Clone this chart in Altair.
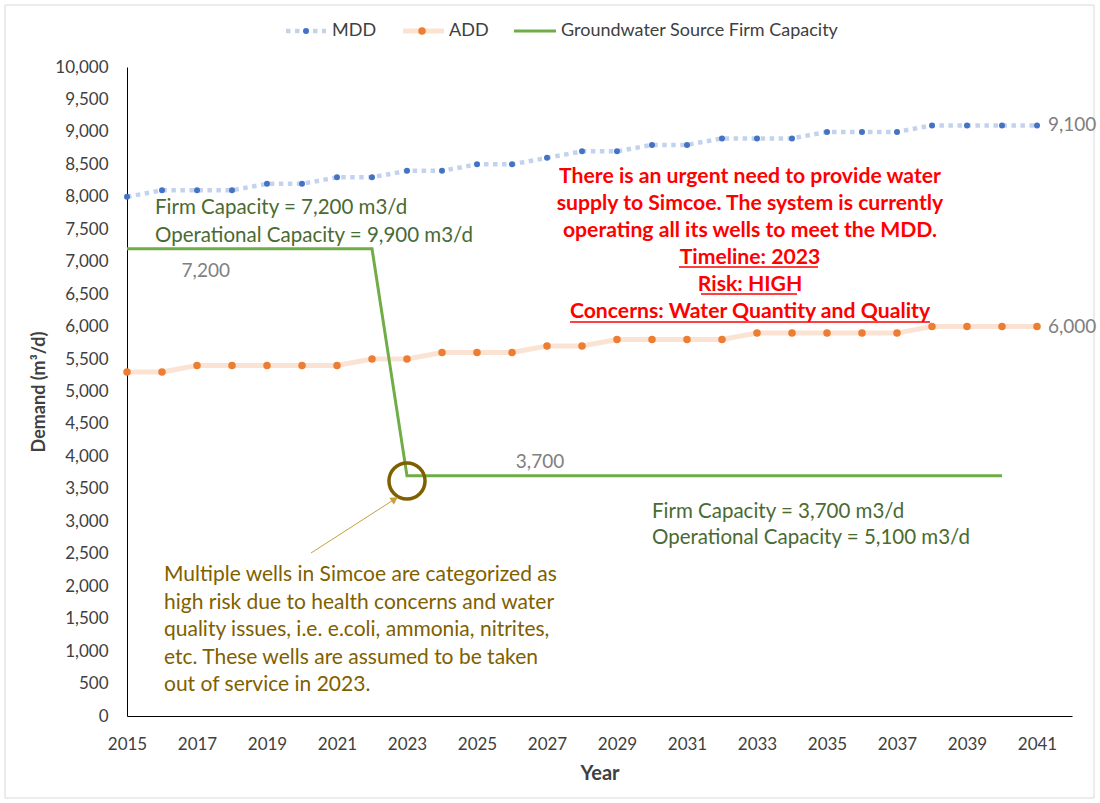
import altair as alt
import pandas as pd

# ---- demand projections (m3/d) ----
years = list(range(2015, 2042))
mdd = [8000, 8100, 8100, 8100, 8200, 8200, 8300, 8300, 8400, 8400,
       8500, 8500, 8600, 8700, 8700, 8800, 8800, 8900, 8900, 8900,
       9000, 9000, 9000, 9100, 9100, 9100, 9100]
add = [5300, 5300, 5400, 5400, 5400, 5400, 5400, 5500, 5500, 5600,
       5600, 5600, 5700, 5700, 5800, 5800, 5800, 5800, 5900, 5900,
       5900, 5900, 5900, 6000, 6000, 6000, 6000]

# ---- groundwater firm capacity step ----
firm_before = 7200
firm_after = 3700
cap_years = [2015, 2022, 2023, 2040]
cap_values = [firm_before, firm_before, firm_after, firm_after]

FONT = "Lato"
BLUE = "#4472C4"
BLUE_LIGHT = "#C3D3EE"
ORANGE = "#ED7D31"
ORANGE_LIGHT = "#FBE3D4"
GREEN = "#70AD47"
GREEN_TEXT = "#4A6A33"
BROWN = "#7F6000"
ARROW = "#C9A03A"
RED = "#FF0000"
GREY = "#808080"
AXIS_TEXT = "#404040"

demand = pd.DataFrame({"year": years, "MDD": mdd, "ADD": add})
cap = pd.DataFrame({"year": cap_years, "value": cap_values})

xs = alt.Scale(domain=[2015, 2042], nice=False, zero=False)
ys = alt.Scale(domain=[0, 10000], nice=False)

x_axis = alt.Axis(values=list(range(2015, 2042, 2)), labelExpr="format(datum.value, 'd')",
                  title="Year", grid=False, ticks=False, labelFontSize=17,
                  labelColor=AXIS_TEXT, labelPadding=20, titleFontSize=20,
                  titleFontWeight="bold", titleColor=AXIS_TEXT, titlePadding=11,
                  domainColor="#000000", labelFlush=False)
y_axis = alt.Axis(values=list(range(0, 10001, 500)), labelExpr="format(datum.value, ',')",
                  title="Demand (m³/d)", grid=False, ticks=False, labelFontSize=17,
                  labelColor=AXIS_TEXT, labelPadding=19, titleFontSize=18,
                  titleFontWeight="bold", titleColor=AXIS_TEXT, titlePadding=6,
                  domainColor="#000000")


def X(field="year:Q"):
    return alt.X(field, scale=xs, axis=x_axis)


def Y(field):
    return alt.Y(field, scale=ys, axis=y_axis)


mdd_line = alt.Chart(demand).mark_line(
    color=BLUE_LIGHT, strokeWidth=4.5, strokeDash=[4.5, 4.5], strokeCap="butt"
).encode(x=X(), y=Y("MDD:Q"))
add_line = alt.Chart(demand).mark_line(color=ORANGE_LIGHT, strokeWidth=5).encode(
    x=X(), y=Y("ADD:Q"))
cap_line = alt.Chart(cap).mark_line(color=GREEN, strokeWidth=3).encode(
    x=X(), y=Y("value:Q"))
mdd_pts = alt.Chart(demand).mark_circle(color=BLUE, size=36, opacity=1).encode(
    x=X(), y=Y("MDD:Q"))
add_pts = alt.Chart(demand).mark_circle(color=ORANGE, size=56, opacity=1).encode(
    x=X(), y=Y("ADD:Q"))

# end-of-series value labels
end_labels = alt.Chart(demand).transform_filter(alt.datum.year == 2041).transform_fold(
    ["MDD", "ADD"], as_=["series", "v"]
).mark_text(align="left", baseline="middle", dx=11, fontSize=19, color=GREY, font=FONT).encode(
    x=X(), y=Y("v:Q"), text=alt.Text("v:Q", format=","))

# capacity value labels
cap_lbl_before = alt.Chart(pd.DataFrame({"year": [2017.25], "value": [firm_before]})).mark_text(
    align="center", baseline="middle", dy=22, fontSize=19, color=GREY, font=FONT
).encode(x=X(), y=Y("value:Q"), text=alt.Text("value:Q", format=","))
cap_lbl_after = alt.Chart(pd.DataFrame({"year": [2026.8], "value": [firm_after]})).mark_text(
    align="center", baseline="middle", dy=-14, fontSize=19, color=GREY, font=FONT
).encode(x=X(), y=Y("value:Q"), text=alt.Text("value:Q", format=","))

# ---- annotation text blocks ----
PX_PER_UNIT = 649 / 10000.0


def val_at(py):
    return (716 - py) / PX_PER_UNIT


def year_at(px):
    return 2015 + (px - 127) / 35.0


def block(lines, px, py0, step):
    return pd.DataFrame({
        "text": lines,
        "year": [year_at(px)] * len(lines),
        "value": [val_at(py0 + i * step) for i in range(len(lines))],
    })


red_lines = ["There is an urgent need to provide water",
             "supply to Simcoe. The system is currently",
             "operating all its wells to meet the MDD.",
             "Timeline: 2023",
             "Risk: HIGH",
             "Concerns: Water Quantity and Quality"]
green_left = ["Firm Capacity = 7,200 m3/d", "Operational Capacity = 9,900 m3/d"]
green_right = ["Firm Capacity = 3,700 m3/d", "Operational Capacity = 5,100 m3/d"]
brown_lines = ["Multiple wells in Simcoe are categorized as",
               "high risk due to health concerns and water",
               "quality issues, i.e. e.coli, ammonia, nitrites,",
               "etc. These wells are assumed to be taken",
               "out of service in 2023."]

red_txt = alt.Chart(block(red_lines, 750, 177, 27)).mark_text(
    align="center", baseline="middle", fontSize=21.2, fontWeight="bold", color=RED, font=FONT
).encode(x=X(), y=Y("value:Q"), text="text:N")

underline = pd.DataFrame({
    "x1": [year_at(679), year_at(701), year_at(570)],
    "x2": [year_at(818), year_at(797), year_at(930)],
    "value": [val_at(267), val_at(294), val_at(322)],
})
red_ul = alt.Chart(underline).mark_rule(color=RED, strokeWidth=1.6).encode(
    x=X("x1:Q"), x2="x2:Q", y=Y("value:Q"))

gl_txt = alt.Chart(block(green_left, 155, 208, 28)).mark_text(
    align="left", baseline="middle", fontSize=20.5, color=GREEN_TEXT, font=FONT
).encode(x=X(), y=Y("value:Q"), text="text:N")
gr_txt = alt.Chart(block(green_right, 652, 512, 26)).mark_text(
    align="left", baseline="middle", fontSize=20.5, color=GREEN_TEXT, font=FONT
).encode(x=X(), y=Y("value:Q"), text="text:N")
br_txt = alt.Chart(block(brown_lines, 164, 575, 27.5)).mark_text(
    align="left", baseline="middle", fontSize=21, color=BROWN, font=FONT
).encode(x=X(), y=Y("value:Q"), text="text:N")

# circle around the 2023 drop and the arrow pointing at it
ring = alt.Chart(pd.DataFrame({"year": [2023], "value": [3620]})).mark_point(
    shape="circle", size=1300, filled=False, color=BROWN, strokeWidth=3.5, opacity=1
).encode(x=X(), y=Y("value:Q"))
arrow_df = pd.DataFrame({"x1": [year_at(311)], "v1": [val_at(553)],
                         "x2": [year_at(394.6)], "v2": [val_at(499.2)]})
arrow_line = alt.Chart(arrow_df).mark_rule(color=ARROW, strokeWidth=1).encode(
    x=X("x1:Q"), x2="x2:Q", y=Y("v1:Q"), y2="v2:Q")
arrow_head = alt.Chart(arrow_df).mark_point(
    shape="triangle-up", size=70, filled=True, color=ARROW, angle=57, opacity=1
).encode(x=X("x2:Q"), y=Y("v2:Q"))

# ---- legend (drawn in pixel space above the plot) ----
one = pd.DataFrame({"k": [0]})
LY = -36
leg_mdd = alt.Chart(one).mark_rule(color=BLUE_LIGHT, strokeWidth=4.5, strokeDash=[4.5, 4.5]).encode(
    x=alt.value(159), x2=alt.value(199), y=alt.value(LY))
leg_mdd_pt = alt.Chart(one).mark_circle(color=BLUE, size=36, opacity=1).encode(
    x=alt.value(179), y=alt.value(LY))
leg_add = alt.Chart(one).mark_rule(color=ORANGE_LIGHT, strokeWidth=5).encode(
    x=alt.value(276), x2=alt.value(317), y=alt.value(LY))
leg_add_pt = alt.Chart(one).mark_circle(color=ORANGE, size=56, opacity=1).encode(
    x=alt.value(295), y=alt.value(LY))
leg_cap = alt.Chart(one).mark_rule(color=GREEN, strokeWidth=3).encode(
    x=alt.value(387), x2=alt.value(429), y=alt.value(LY))


def leg_text(label, px):
    return alt.Chart(one).mark_text(
        align="left", baseline="middle", fontSize=18, color=AXIS_TEXT, font=FONT, text=label
    ).encode(x=alt.value(px), y=alt.value(LY))


leg_txt = [leg_text("MDD", 205), leg_text("ADD", 322),
           leg_text("Groundwater Source Firm Capacity", 434)]

# light frame around the whole chart
frame = alt.Chart(one).mark_rect(fill=None, stroke="#D9D9D9", strokeWidth=1).encode(
    x=alt.value(-122), x2=alt.value(967), y=alt.value(-62), y2=alt.value(731))

chart = alt.layer(
    frame, mdd_line, add_line, cap_line, mdd_pts, add_pts, end_labels,
    cap_lbl_before, cap_lbl_after,
    red_txt, red_ul, gl_txt, gr_txt, br_txt, ring, arrow_line, arrow_head,
    leg_mdd, leg_mdd_pt, leg_add, leg_add_pt, leg_cap, *leg_txt
).properties(
    width=945, height=649,
    autosize=alt.AutoSizeParams(type="none"),
    padding={"left": 127, "top": 67, "right": 28, "bottom": 87},
).configure(font=FONT, background="white", view=alt.ViewConfig(stroke=None))

chart.save("out.html", embed_options={"renderer": "svg", "actions": False})
